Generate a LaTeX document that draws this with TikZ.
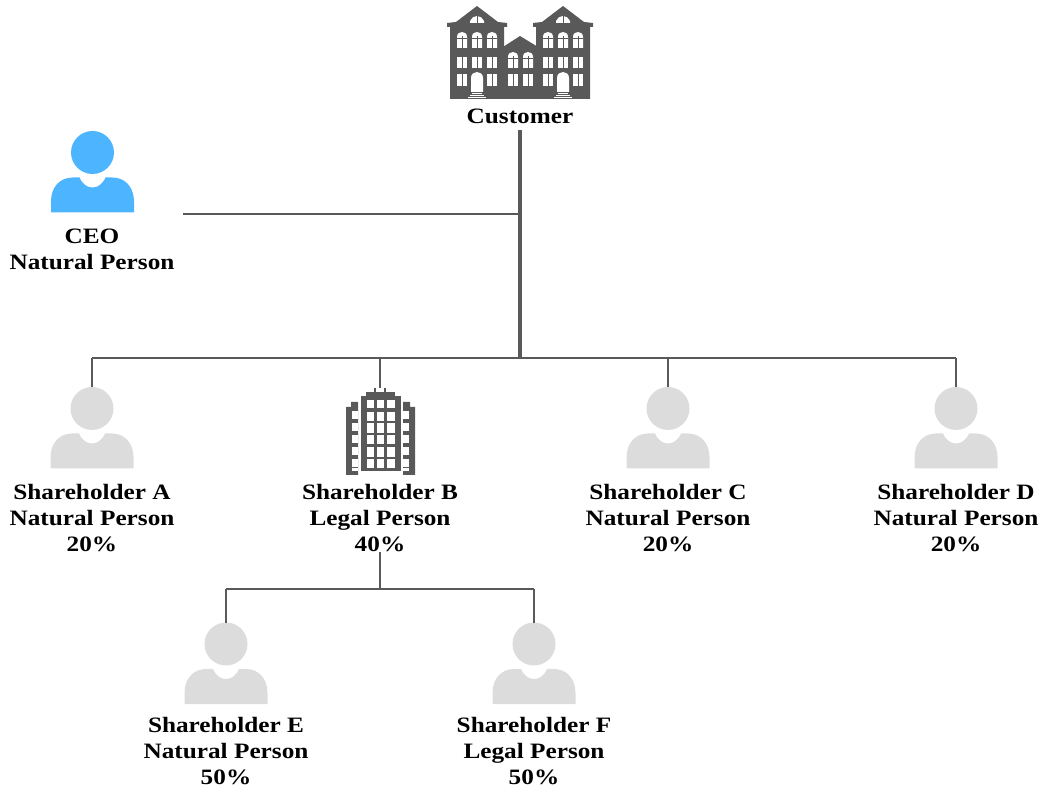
\documentclass[tikz,border=0pt]{standalone}
\usepackage{fontspec}
\setmainfont[FakeStretch=1.15]{Liberation Serif}
\definecolor{linegrey}{HTML}{595959}
\definecolor{icongrey}{HTML}{DCDCDC}
\definecolor{iconblue}{HTML}{4DB5FF}
\tikzset{
  conn/.style={draw=linegrey, line width=1.4pt},
  connthick/.style={draw=linegrey, line width=1.75pt},
  txt/.style={align=center, inner sep=0pt, outer sep=0pt, font=\fontsize{12.5}{15}\selectfont\bfseries},
  hole/.style={fill=white, draw=none},
  bar/.style={draw=linegrey, line width=0.35pt},
  person/.pic={
    \coordinate (-top) at (0,-21);
    \fill (0,0) circle (21.5);
    \fill (-41.5,60) -- (-41.5,49) .. controls (-41.5,34) and (-32,25) .. (-20,25)
      -- (-13,25) .. controls (-10,32) and (-5,35) .. (0,35)
      .. controls (5,35) and (10,32) .. (13,25) -- (20,25)
      .. controls (32,25) and (41.5,34) .. (41.5,49) -- (41.5,60) -- cycle;
  },
  tower/.pic={
    \coordinate (-top) at (0,-42);
    \fill[linegrey] (-19,-34) rectangle (21,41);
    \fill[linegrey] (-14,-38) rectangle (15,-34);
    \fill[linegrey] (-6,-42) rectangle (-4,-38);
    \fill[linegrey] (4,-42) rectangle (6,-38);
    \foreach \ya/\yb in {-30/-22,-18/-9,-7/3,5/14,17/27,29/38}{
      \foreach \xa/\xb in {-13/-6,-3/4,7/15}{
        \fill[hole] (\xa,\ya) rectangle (\xb,\yb);
      }
    }
    % side wings
    \fill[linegrey] (-34,-23) -- (-29,-23) -- (-29,-28) -- (-22,-28) -- (-22,45) -- (-34,45) -- cycle;
    \fill[linegrey] (35,-23) -- (30,-23) -- (30,-28) -- (23,-28) -- (23,45) -- (35,45) -- cycle;
    \foreach \ya/\yb in {-19/-11,-7/1,5/13,17/25,29/37}{
      \fill[hole] (-28,\ya) rectangle (-22,\yb);
      \fill[hole] (23,\ya) rectangle (29,\yb);
    }
    \fill[hole] (-28,38.5) rectangle (-22,41);
    \fill[hole] (23,38.5) rectangle (29,41);
  },
}
\newcommand{\archwin}[3]{% x centre, top, bottom
  \fill[hole] (#1-5,#3) -- (#1-5,#2+5) .. controls (#1-5,#2+1.5) and (#1-2.5,#2) .. (#1,#2)
    .. controls (#1+2.5,#2) and (#1+5,#2+1.5) .. (#1+5,#2+5) -- (#1+5,#3) -- cycle;
  \draw[bar] (#1,#2+4) -- (#1,#3);
  \draw[bar] (#1-5,#2+6) -- (#1+5,#2+6);
}
\newcommand{\flatwin}[3]{% x centre, top, bottom
  \fill[hole] (#1-5,#2) rectangle (#1+5,#3);
  \draw[bar] (#1,#2) -- (#1,#3);
}
\newcommand{\wingdoor}[1]{% x centre
  \fill[hole] (#1-6,92) -- (#1-6,78) .. controls (#1-6,74) and (#1-3,72) .. (#1,72)
    .. controls (#1+3,72) and (#1+6,74) .. (#1+6,78) -- (#1+6,92) -- cycle;
  \foreach \y in {93,95,97}{
    \fill[hole] (#1-9+97-\y,\y) rectangle (#1+9-97+\y,\y+1);
  }
}
\newcommand{\wing}[1]{% x centre of the wing
  \fill[linegrey] (#1-27,27) -- (#1-30,27) -- (#1-30,23) -- (#1-21,22) -- (#1,6) -- (#1+21,22) -- (#1+30,23) -- (#1+30,27)
    -- (#1+27,27) -- (#1+27,99) -- (#1-27,99) -- cycle;
  \fill[hole] (#1-7,23) -- (#1-7,21) .. controls (#1-6,18) and (#1-3,16) .. (#1,16)
    .. controls (#1+3,16) and (#1+6,18) .. (#1+7,21) -- (#1+7,23) -- cycle;
  \draw[bar] (#1,16) -- (#1,23);
  \foreach \dx in {-15,0,15}{
    \archwin{#1+\dx}{32}{48}
    \flatwin{#1+\dx}{57}{68}
  }
  \flatwin{#1-15}{74}{86}
  \flatwin{#1+15}{74}{86}
  \wingdoor{#1}
}
\begin{document}
\begin{tikzpicture}[x=0.02cm, y=-0.02cm]
  \useasboundingbox (0,0) rectangle (1045,793);

  % customer building
  \fill[linegrey] (503,47) -- (520,36) -- (538,47) -- (538,99) -- (503,99) -- cycle;
  \wing{477}
  \wing{563}
  \archwin{513}{52}{68}
  \archwin{528}{52}{68}
  \flatwin{513}{74}{86}
  \flatwin{528}{74}{86}
  \node[txt, minimum height=0.56cm] (customer) at (520,116) {Customer};

  % icons
  \pic[iconblue] (ceo) at (92.5,152.5) {person};
  \pic[icongrey] (shA) at (92,408.5) {person};
  \pic (shB) at (380,430) {tower};
  \pic[icongrey] (shC) at (668,408.5) {person};
  \pic[icongrey] (shD) at (956,408.5) {person};
  \pic[icongrey] (shE) at (226,644) {person};
  \pic[icongrey] (shF) at (534,644) {person};

  % labels
  \node[txt] (ceoTxt) at (92,249.5) {CEO\\Natural Person};
  \node[txt] (shATxt) at (92,518) {Shareholder A\\Natural Person\\20\%};
  \node[txt] (shBTxt) at (380,518) {Shareholder B\\Legal Person\\40\%};
  \node[txt] (shCTxt) at (668,518) {Shareholder C\\Natural Person\\20\%};
  \node[txt] (shDTxt) at (956,518) {Shareholder D\\Natural Person\\20\%};
  \node[txt] (shETxt) at (226,751) {Shareholder E\\Natural Person\\50\%};
  \node[txt] (shFTxt) at (534,751) {Shareholder F\\Legal Person\\50\%};

  % junctions
  \coordinate (ceoEnd) at (183,214);
  \coordinate (ceoJoin) at (520,214);
  \coordinate (busTop) at (520,358);
  \coordinate (busA) at (92,358);
  \coordinate (busB) at (380,358);
  \coordinate (busC) at (668,358);
  \coordinate (busD) at (956,358);
  \coordinate (subTop) at (380,589);
  \coordinate (subE) at (226,589);
  \coordinate (subF) at (534,589);

  % connectors
  \draw[connthick] (customer.south) -- (busTop);
  \draw[conn] (ceoEnd) -- (ceoJoin);
  \draw[conn] (busA) -- (busD);
  \draw[conn] (busA) -- (shA-top);
  \draw[conn] (busB) -- (shB-top);
  \draw[conn] (busC) -- (shC-top);
  \draw[conn] (busD) -- (shD-top);
  \draw[conn] (shBTxt.south) -- (subTop);
  \draw[conn] (subE) -- (subF);
  \draw[conn] (subE) -- (shE-top);
  \draw[conn] (subF) -- (shF-top);
\end{tikzpicture}
\end{document}
